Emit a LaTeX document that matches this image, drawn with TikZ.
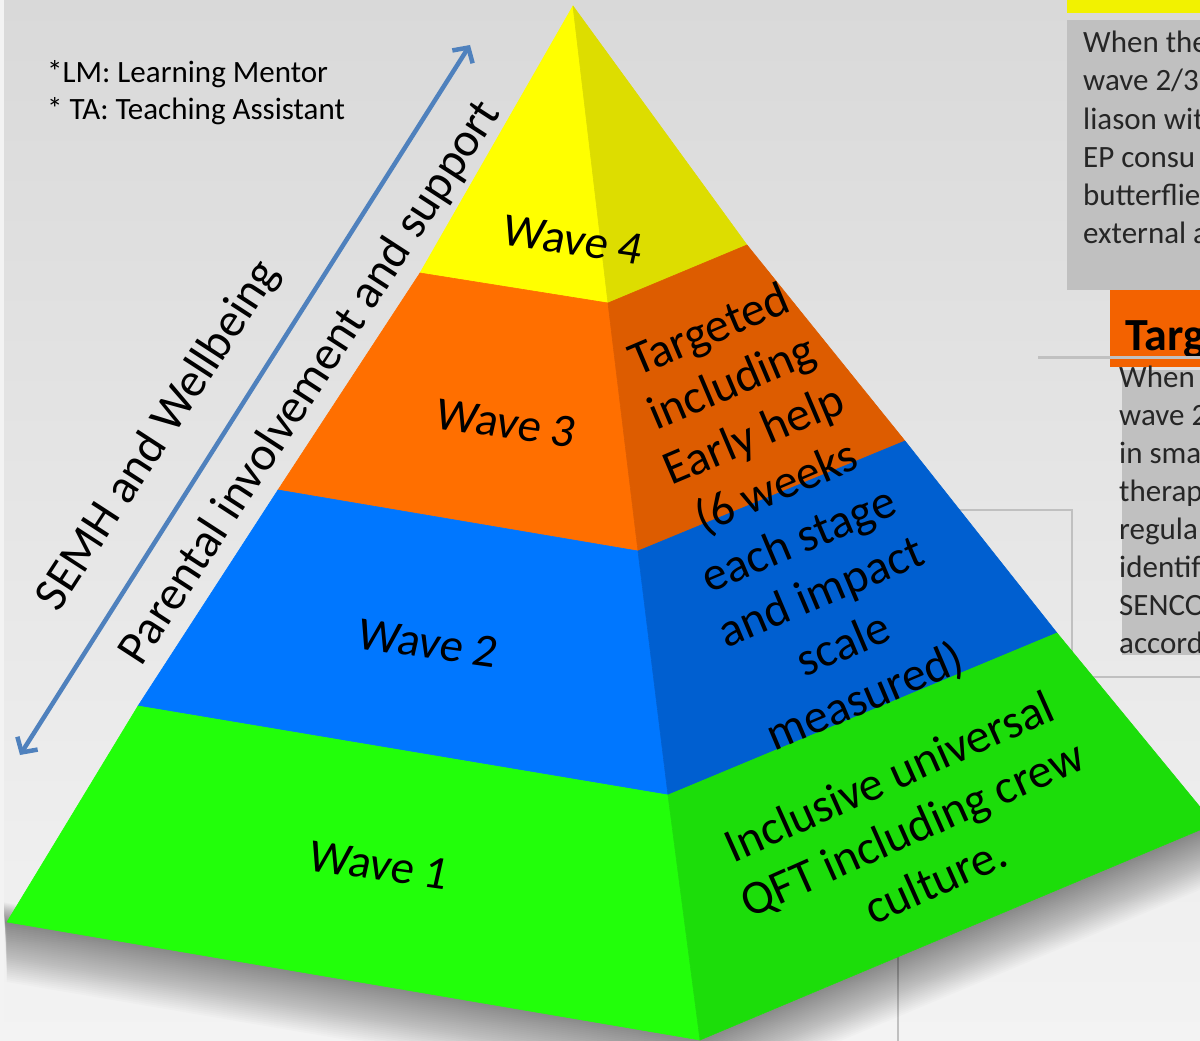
\documentclass[tikz,border=0pt]{standalone}
\usepackage{fontspec}
\setmainfont{Carlito}
\newfontfamily\waveFont[FakeSlant=0.08]{Carlito}
\usepackage{tikz}
\usetikzlibrary{arrows.meta}
\definecolor{yellowLeft}{RGB}{255,255,0}
\definecolor{yellowRight}{RGB}{221,221,0}
\definecolor{orangeLeft}{RGB}{255,111,0}
\definecolor{orangeRight}{RGB}{221,92,0}
\definecolor{blueLeft}{RGB}{0,119,255}
\definecolor{blueRight}{RGB}{0,95,208}
\definecolor{greenLeft}{RGB}{34,255,10}
\definecolor{greenRight}{RGB}{28,221,10}
\definecolor{backColor}{RGB}{217,217,217}
\definecolor{backLight}{RGB}{243,243,243}
\definecolor{boxGrey}{RGB}{192,192,192}
\definecolor{arrowBlue}{RGB}{79,129,189}
\definecolor{textGrey}{RGB}{38,38,38}
\definecolor{tabOrange}{RGB}{243,98,0}
\definecolor{tabYellow}{RGB}{242,242,0}
\tikzstyle{faceStyle} = [line width=0.6pt, line join=round]
\tikzstyle{waveText} = [font=\waveFont\fontsize{47}{55}\selectfont, inner sep=0pt, rotate=-8]
\tikzstyle{sideText} = [font=\fontsize{48}{57}\selectfont, align=center, inner sep=0pt]
\tikzstyle{bandText} = [font=\fontsize{48}{55}\selectfont, inner sep=0pt, rotate=57]
\tikzstyle{noteText} = [font=\fontsize{31}{39}\selectfont, anchor=base west, inner sep=0pt]
\tikzstyle{tabText} = [font=\fontsize{31}{38}\selectfont, text=textGrey, anchor=base west, inner sep=0pt]
\tikzstyle{tabTitle} = [font=\bfseries\fontsize{46}{55}\selectfont, anchor=base west, inner sep=0pt]
\tikzstyle{frameLine} = [draw=boxGrey, line width=2pt]
\tikzstyle{tabRule} = [draw=boxGrey, line width=3pt]
\tikzstyle{supportArrow} = [draw=arrowBlue, line width=4.5pt, {Straight Barb[length=11pt,width=24pt]}-{Straight Barb[length=11pt,width=24pt]}]
\newcommand{\pyramidFace}[2]{\filldraw [faceStyle, draw=#1, fill=#1] #2 -- cycle;}

\begin{document}
\begin{tikzpicture}[x=1pt, y=-1pt]
  \clip (0,0) rectangle (1200,1041);
  \useasboundingbox (0,0) rectangle (1200,1041);
  \shade[top color=backColor, middle color=backColor, bottom color=backLight] (0,0) rectangle (1200,1041);
  \fill[backLight] (0,0) rectangle (4,1041);

  % boxes behind, on the right
  \fill[tabYellow] (1067,0) rectangle (1200,13);
  \fill[boxGrey] (1067,20) rectangle (1200,290);
  \foreach \line [count=\i] in {When the, {wave 2/3}, liason wit, EP consu, butterflie, external a} {
    \node[tabText] (upperLine\i) at (1083,{53+38*(\i-1)}) {\line};
  }
  \fill[tabOrange] (1110,290) rectangle (1200,367);
  \node[tabTitle] (targetTab) at (1125,350) {Targ};
  \draw[tabRule] (1038,357) -- (1200,357);
  \fill[boxGrey] (1122,370) rectangle (1200,655);
  \foreach \line [count=\i] in {When, wave 2, in sma, therap, regula, identif, SENCO, accord} {
    \node[tabText] (lowerLine\i) at (1119,{387+38*(\i-1)}) {\line};
  }
  \draw[frameLine] (898,1041) -- (898,510) -- (1072,510) -- (1072,677) -- (1200,677);

  % pyramid
  \coordinate (apex) at (573,6);
  \coordinate (yL) at (420,273);
  \coordinate (yM) at (608,303);
  \coordinate (yR) at (747,245);
  \coordinate (oL) at (278,490);
  \coordinate (oM) at (638,551);
  \coordinate (oR) at (905,441);
  \coordinate (bL) at (138,706);
  \coordinate (bM) at (668,795);
  \coordinate (bR) at (1057,633);
  \coordinate (gL) at (7,922);
  \coordinate (gM) at (700,1040);
  \coordinate (gR) at (1214,824);

  \foreach \d in {2,4,...,60} {
    \fill[black, opacity=0.016] (4,{922-\d/3}) -- (gM) -- (gR) -- (1214,{824+\d}) -- (700,{1040+\d}) -- (7,{922+\d}) -- cycle;
  }

  \pyramidFace{yellowLeft}{(apex) -- (yM) -- (yL)}
  \pyramidFace{yellowRight}{(apex) -- (yR) -- (yM)}
  \pyramidFace{orangeLeft}{(yL) -- (yM) -- (oM) -- (oL)}
  \pyramidFace{orangeRight}{(yM) -- (yR) -- (oR) -- (oM)}
  \pyramidFace{blueLeft}{(oL) -- (oM) -- (bM) -- (bL)}
  \pyramidFace{blueRight}{(oM) -- (oR) -- (bR) -- (bM)}
  \pyramidFace{greenLeft}{(bL) -- (bM) -- (gM) -- (gL)}
  \pyramidFace{greenRight}{(bM) -- (bR) -- (gR) -- (gM)}

  \node[waveText] (waveFour) at (572,240) {Wave 4};
  \node[waveText] (waveThree) at (505,423) {Wave 3};
  \node[waveText] (waveTwo) at (427,643) {Wave 2};
  \node[waveText] (waveOne) at (378,865) {Wave 1};

  \node[sideText, rotate=23] (targetedText) at (788,515) {Targeted\\including\\Early help\\(6 weeks\\each stage\\and impact\\scale\\measured)};
  \node[sideText, rotate=24] (inclusiveText) at (912,828) {Inclusive universal\\QFT including crew\\culture.};

  % left side
  \coordinate (arrowLow) at (20,755);
  \coordinate (arrowHigh) at (470,45);
  \draw[supportArrow] (arrowLow) -- (arrowHigh);
  \node[bandText] (semhText) at (159,436) {SEMH and Wellbeing};
  \node[bandText] (parentalText) at (311,383) {Parental involvement and support};

  \node[noteText] (noteLM) at (47,82) {*LM: Learning Mentor};
  \node[noteText] (noteTA) at (47,119) {* TA: Teaching Assistant};
\end{tikzpicture}
\end{document}
